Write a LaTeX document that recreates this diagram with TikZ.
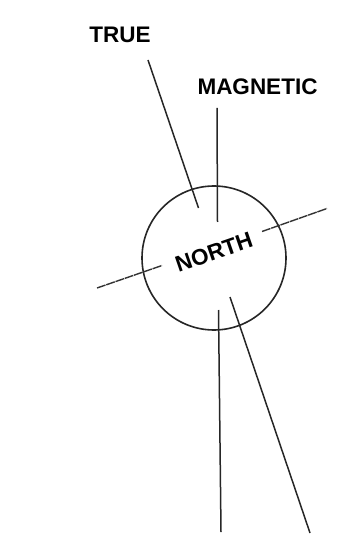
\documentclass[tikz,border=0pt]{standalone}
\usepackage{fontspec}
\setmainfont{Liberation Sans}
\begin{document}
\begin{tikzpicture}[x=1pt,y=-1pt,
  lbl/.style={font=\fontsize{22.5}{27}\selectfont\bfseries, inner sep=0pt, anchor=center},
  ln/.style={line width=1.5pt, black!85},
  ewln/.style={line width=1.4pt, black!80, dash pattern=on 9pt off 0.8pt},
  ring/.style={circle, draw=black!85, line width=1.6pt, minimum size=144pt, inner sep=0pt}]
\useasboundingbox (0,0) rectangle (345,534);
% circle
\node[ring] (c) at (214,258) {};
% labels
\node[lbl] (true) at (120,35) {TRUE};
\node[lbl] (mag) at (257.5,87) {MAGNETIC};
\node[lbl, rotate=19] (north) at (214,252) {NORTH};
% true north line
\coordinate (t1) at (148,60);
\coordinate (t2) at (198.5,208);
\coordinate (t3) at (230,297);
\coordinate (t4) at (310,533);
\draw[ln] (t1) -- (t2);
\draw[ln] (t3) -- (t4);
% magnetic line
\coordinate (m1) at (217,108);
\coordinate (m2) at (217.5,222);
\coordinate (m3) at (218.5,310);
\coordinate (m4) at (221,532);
\draw[ln] (m1) -- (m2);
\draw[ln] (m3) -- (m4);
% east-west line
\coordinate (e1) at (97,288);
\coordinate (e2) at (162,265.5);
\coordinate (e3) at (262,231.5);
\coordinate (e4) at (327,208.5);
\draw[ewln] (e1) -- (e2);
\draw[ewln] (e3) -- (e4);
\end{tikzpicture}
\end{document}
